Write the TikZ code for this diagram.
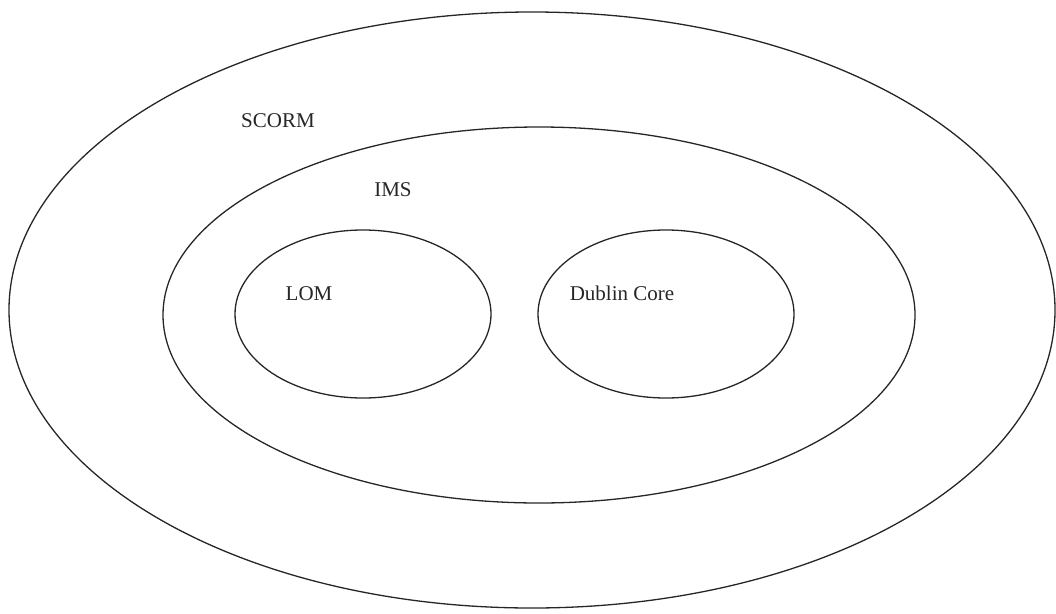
\documentclass[tikz,border=0pt]{standalone}
\usepackage{fontspec}
\setmainfont{Liberation Serif}
\usetikzlibrary{shapes.geometric}
\begin{document}
\begin{tikzpicture}[x=1pt,y=-1pt,
  ring/.style={ellipse, draw=black!85, line width=1.3pt, inner sep=0pt, minimum width=#1},
  lbl/.style={font=\fontsize{21}{25}\selectfont, inner sep=0pt, text=black!85}]
\useasboundingbox (0,0) rectangle (1056,613);
\node[ring=1046pt, minimum height=596pt] (scorm) at (532,310) {};
\node[ring=752pt, minimum height=376pt] (ims) at (539,315) {};
\node[ring=256pt, minimum height=168pt] (lom) at (363,314) {};
\node[ring=256pt, minimum height=168pt] (dc) at (666,314) {};
\node[lbl] (tscorm) at (278,121) {SCORM};
\node[lbl] (tims) at (393,190) {IMS};
\node[lbl] (tlom) at (309,294) {LOM};
\node[lbl] (tdc) at (622,293) {Dublin Core};
\end{tikzpicture}
\end{document}
